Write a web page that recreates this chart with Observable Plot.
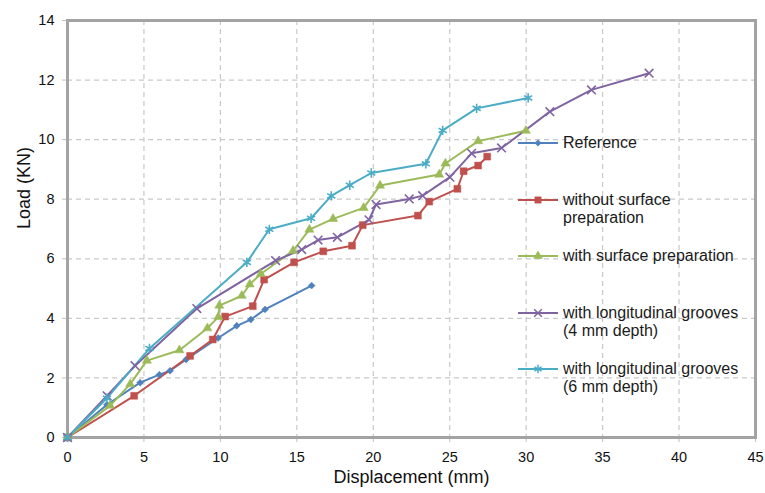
<!DOCTYPE html>
<html>
<head>
<meta charset="utf-8">
<script src="https://cdn.jsdelivr.net/npm/d3@7"></script>
<script src="https://cdn.jsdelivr.net/npm/@observablehq/plot@0.6"></script>
<style>
  html, body { margin: 0; padding: 0; background: #ffffff; }
  #wrap { position: relative; width: 765px; height: 493px; font-family: "Liberation Sans", Arial, sans-serif; color: #1a1a1a; }
  #legend { position: absolute; left: 518px; top: 0; }
  .item { position: absolute; left: 0; display: flex; align-items: flex-start; white-space: nowrap; }
  .item svg { flex: none; }
  .item .lbl { margin-left: 5px; font-size: 16px; line-height: 18px; color: #1a1a1a; }
</style>
</head>
<body>
<div id="wrap"><div id="legend"></div></div>
<script>
// ---- data ----
const seriesNames = [
  "Reference",
  "without surface preparation",
  "with surface preparation",
  "with longitudinal grooves (4 mm depth)",
  "with longitudinal grooves (6 mm depth)"
];
const legendLines = [
  ["Reference"],
  ["without surface", "preparation"],
  ["with surface preparation"],
  ["with longitudinal grooves", "(4 mm depth)"],
  ["with longitudinal grooves", "(6 mm depth)"]
];

const refX = [0, 2.58, 4.75, 6.01, 6.71, 7.76, 9.85, 11.07, 11.99, 12.92, 15.97];
const refY = [0, 1.10, 1.84, 2.11, 2.24, 2.62, 3.34, 3.75, 3.96, 4.30, 5.10];

const noPrepX = [0, 4.36, 8.02, 9.50, 10.31, 12.12, 12.86, 14.82, 16.73, 18.61, 19.31, 22.92, 23.66, 25.50, 25.91, 26.86, 27.45];
const noPrepY = [0, 1.40, 2.74, 3.29, 4.06, 4.41, 5.30, 5.88, 6.25, 6.44, 7.13, 7.45, 7.92, 8.35, 8.94, 9.13, 9.43];

const prepX = [0, 2.79, 4.10, 5.19, 7.32, 9.15, 9.87, 9.93, 11.40, 11.92, 12.64, 14.75, 15.82, 17.37, 19.37, 20.44, 24.31, 24.72, 26.86, 29.98];
const prepY = [0, 1.07, 1.79, 2.58, 2.93, 3.67, 4.05, 4.43, 4.76, 5.14, 5.49, 6.27, 6.98, 7.34, 7.71, 8.46, 8.83, 9.20, 9.95, 10.30];

const g4X = [0, 2.59, 4.42, 8.46, 13.61, 15.32, 16.39, 17.65, 19.72, 20.18, 22.35, 23.23, 25.01, 26.43, 28.39, 31.55, 34.27, 38.04];
const g4Y = [0, 1.40, 2.41, 4.33, 5.94, 6.31, 6.63, 6.72, 7.31, 7.82, 8.01, 8.12, 8.74, 9.54, 9.72, 10.94, 11.67, 12.23];

const g6X = [0, 2.58, 5.36, 11.73, 13.20, 15.93, 17.25, 18.46, 19.87, 23.44, 24.54, 26.76, 30.13];
const g6Y = [0, 1.32, 2.99, 5.88, 6.99, 7.36, 8.11, 8.47, 8.88, 9.19, 10.31, 11.05, 11.40];

const xTicks = [0, 5, 10, 15, 20, 25, 30, 35, 40, 45];
const yTicks = [0, 2, 4, 6, 8, 10, 12, 14];

const colors = ["#4F81BD", "#C0504D", "#9BBB59", "#8064A2", "#4BACC6"];
const symbols = ["diamond2", "square", "triangle", "times", "asterisk"];
const symbolRadius = [3.1, 3.9, 3.4, 4, 4.4];
const filled = [true, true, true, false, false];

const xs = [refX, noPrepX, prepX, g4X, g6X];
const ys = [refY, noPrepY, prepY, g4Y, g6Y];
const tables = xs.map((xa, s) => xa.map((x, i) => ({series: seriesNames[s], x, y: ys[s][i]})));

// ---- marks ----
const marks = [
  Plot.gridX(xTicks.slice(1, -1), {stroke: "#c9c9c9", strokeOpacity: 1, strokeWidth: 1.2, strokeDasharray: "5,4"}),
  Plot.gridY(yTicks.slice(1, -1), {stroke: "#c9c9c9", strokeOpacity: 1, strokeWidth: 1.2, strokeDasharray: "5,4"}),
  Plot.axisX(xTicks, {tickSize: 5, tickPadding: 9, stroke: "#c0c0c0", fill: "#111111", label: null, fontSize: 14.5}),
  Plot.axisY(yTicks, {tickSize: 5, tickPadding: 8, stroke: "#c0c0c0", fill: "#111111", label: null, fontSize: 14.5}),
  Plot.frame({stroke: "#a3a3a3", strokeWidth: 3}),
  Plot.text(["Displacement (mm)"], {frameAnchor: "bottom", dy: 45, text: d => d, fontSize: 18, fill: "#111111"}),
  Plot.text(["Load (KN)"], {frameAnchor: "left", dx: -43, rotate: -90, text: d => d, fontSize: 18, fill: "#111111"})
];
tables.forEach((t, s) => {
  marks.push(Plot.line(t, {x: "x", y: "y", stroke: colors[s], strokeWidth: 2}));
});
tables.forEach((t, s) => {
  marks.push(Plot.dot(t, {
    x: "x", y: "y", symbol: () => symbols[s], r: symbolRadius[s],
    fill: filled[s] ? colors[s] : "none",
    stroke: colors[s], strokeWidth: filled[s] ? 0.5 : 1.6
  }));
});

const chart = Plot.plot({
  width: 765,
  height: 493,
  marginLeft: 67,
  marginRight: 10,
  marginTop: 20,
  marginBottom: 56,
  style: {fontFamily: "'Liberation Sans', Arial, sans-serif", fontSize: "14.5px", background: "#ffffff", color: "#111111", overflow: "visible"},
  x: {domain: [0, 45], ticks: xTicks},
  y: {domain: [0, 14], ticks: yTicks},
  symbol: {type: "identity"},
  marks
});
document.getElementById("wrap").prepend(chart);

// ---- legend (HTML overlay) ----
const legendTop = [143, 200, 256, 313, 369];
const legendSizes = [26, 40, 34, 40, 48];
const legendSymbols = [d3.symbolDiamond2, d3.symbolSquare, d3.symbolTriangle, d3.symbolTimes, d3.symbolAsterisk];
const legend = d3.select("#legend");
seriesNames.forEach((name, s) => {
  const item = legend.append("div").attr("class", "item").style("top", (legendTop[s] - 9) + "px");
  const svg = item.append("svg").attr("width", 40).attr("height", 18);
  svg.append("line").attr("x1", 0).attr("x2", 40).attr("y1", 9).attr("y2", 9)
    .attr("stroke", colors[s]).attr("stroke-width", 2);
  svg.append("path").attr("transform", "translate(20,9)")
    .attr("d", d3.symbol(legendSymbols[s], legendSizes[s])())
    .attr("fill", filled[s] ? colors[s] : "none")
    .attr("stroke", colors[s]).attr("stroke-width", filled[s] ? 0.5 : 1.5);
  const lbl = item.append("div").attr("class", "lbl");
  legendLines[s].forEach((ln, i) => { if (i) lbl.append("br"); lbl.append("span").text(ln); });
});
</script>
</body>
</html>
